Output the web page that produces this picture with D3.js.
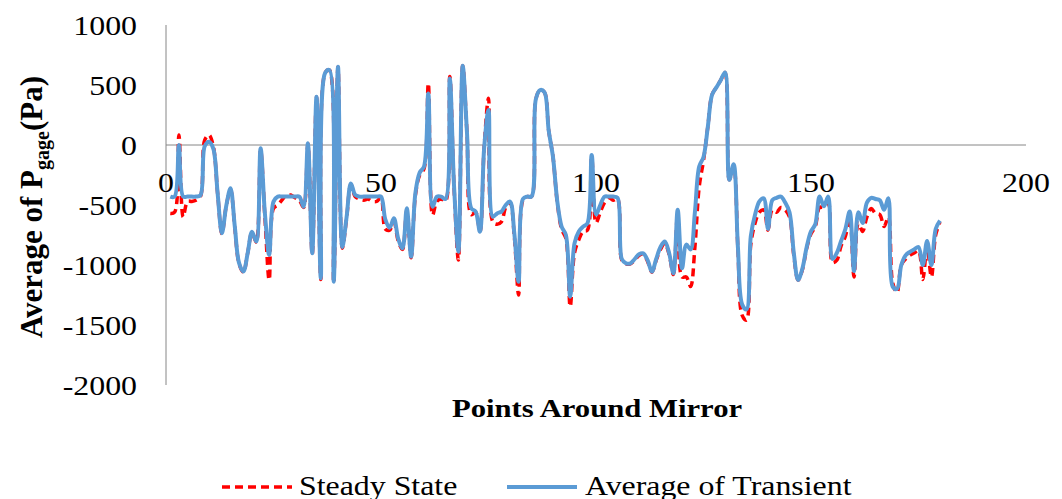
<!DOCTYPE html>
<html>
<head>
<meta charset="utf-8">
<script src="https://cdn.jsdelivr.net/npm/d3@7"></script>
<style>
body { margin: 0; background: #fff; }
</style>
</head>
<body>
<div class="viz"></div>
<script>
// point numbers around the mirror
const pointNo = d3.range(1, 181);

const steadyState = [
    -570, -560, 83, -600, -470, -470, -460, -430, 40, 83,
    -10, -400, -740, -510, -370, -690, -990, -1060, -900, -730,
    -810, -40, -600, -1125, -528, -500, -458, -416, -416, -440,
    -460, -520, 10, -910, 400, -1120, 600, 625, -1150, 650,
    -860, -610, -330, -430, -450, -460, -450, -470, -470, -440,
    -700, -710, -640, -800, -870, -540, -940, -420, -250, -200,
    514, -583, -470, -450, -470, 570, -360, -958, 660, 100,
    -580, -560, -720, -10, 389, -640, -660, -640, -520, -480,
    -760, -1250, -460, -430, -430, 380, 458, 440, 120, -100,
    -480, -700, -780, -1347, -900, -790, -720, -710, -100, -650,
    -560, -480, -440, -460, -450, -960, -990, -990, -960, -920,
    -910, -970, -1060, -960, -870, -820, -910, -1080, -560, -1100,
    -1100, -1180, -850, -350, -130, 150, 420, 480, 540, 605,
    -290, -170, -860, -1420, -1460, -830, -650, -560, -540, -710,
    -540, -560, -520, -540, -600, -920, -1125, -1040, -860, -740,
    -680, -520, -520, -480, -980, -960, -840, -760, -600, -1100,
    -650, -720, -600, -530, -570, -580, -680, -600, -1150, -1230,
    -1000, -950, -920, -900, -880, -1120, -850, -1100, -750, -640
];

const avgTransient = [
    -430, -430, 0, -430, -430, -430, -430, -420, -10, 28,
    -30, -400, -735, -510, -360, -680, -985, -1055, -900, -722,
    -805, -28, -570, -917, -472, -430, -430, -430, -430, -430,
    -430, -514, 14, -903, 403, -1110, 600, 625, -1139, 653,
    -850, -600, -320, -416, -430, -430, -430, -430, -430, -430,
    -620, -690, -610, -780, -861, -528, -930, -400, -230, -180,
    430, -514, -430, -430, -450, 555, -350, -889, 660, 100,
    -528, -555, -722, -20, 292, -597, -570, -555, -500, -472,
    -736, -1139, -450, -430, -430, 380, 458, 440, 120, -100,
    -470, -680, -750, -1264, -820, -720, -680, -653, -83, -580,
    -500, -430, -430, -430, -440, -950, -986, -986, -950, -910,
    -903, -960, -1055, -950, -850, -805, -900, -1069, -540, -1028,
    -830, -870, -560, -180, -100, 150, 420, 480, 540, 605,
    -290, -160, -850, -1330, -1370, -760, -580, -470, -444, -700,
    -460, -440, -430, -480, -560, -900, -1125, -1030, -850, -720,
    -660, -430, -510, -430, -950, -900, -800, -700, -555, -1050,
    -560, -650, -480, -440, -450, -460, -540, -444, -1180, -1200,
    -1000, -920, -890, -870, -850, -1000, -800, -1000, -700, -630
];

const xTicks = [0, 50, 100, 150, 200];
const yTicks = [1000, 500, 0, -500, -1000, -1500, -2000];

const W = 1062, H = 499;
const font = '"Liberation Serif", "Times New Roman", serif';
const sx = 1.18; // the source image is stretched sideways

const svg = d3.select('.viz').append('svg')
    .attr('width', W)
    .attr('height', H)
    .style('font-family', font);

const x = d3.scaleLinear().domain([0, 200]).range([166, 1026]);
const y = d3.scaleLinear().domain([-2000, 1000]).range([385, 25]);

// stretched text helper
function label(px, py, txt, size, anchor, weight) {
    return svg.append('text')
        .attr('transform', `translate(${px},${py}) scale(${sx},1)`)
        .attr('text-anchor', anchor)
        .style('font-size', size + 'px')
        .style('font-weight', weight || 'normal')
        .attr('fill', '#000')
        .text(txt);
}

// axes lines
svg.append('line')
    .attr('x1', x(0)).attr('x2', x(0))
    .attr('y1', y(1000)).attr('y2', y(-2000))
    .attr('stroke', '#868686').attr('stroke-width', 1);
svg.append('line')
    .attr('x1', x(0)).attr('x2', x(200))
    .attr('y1', y(0)).attr('y2', y(0))
    .attr('stroke', '#868686').attr('stroke-width', 1);

yTicks.forEach(t => label(137, y(t) + 9.5, t, 27, 'end'));
xTicks.forEach(t => label(x(t), y(0) + 47, t, 27, 'middle'));

label(597, 417, 'Points Around Mirror', 26, 'middle', 'bold');

const yt = svg.append('text')
    .attr('transform', 'translate(42,207) rotate(-90) scale(1,1.05)')
    .attr('text-anchor', 'middle')
    .style('font-size', '31px')
    .style('font-weight', 'bold')
    .text('Average of P');
yt.append('tspan')
    .attr('dy', 7)
    .style('font-size', '20px')
    .text('gage');
yt.append('tspan')
    .attr('dy', -7)
    .text('(Pa)');

const line = d3.line()
    .x((d, i) => x(pointNo[i]))
    .y(d => y(d))
    .curve(d3.curveCatmullRom.alpha(0.5));

svg.append('path')
    .datum(steadyState)
    .attr('d', line)
    .attr('fill', 'none')
    .attr('stroke', '#ff0000')
    .attr('stroke-width', 3.5)
    .attr('stroke-dasharray', '8,5');

svg.append('path')
    .datum(avgTransient)
    .attr('d', line)
    .attr('fill', 'none')
    .attr('stroke', '#5b9bd5')
    .attr('stroke-width', 4)
    .attr('stroke-linejoin', 'round');

// legend
svg.append('line')
    .attr('x1', 222).attr('x2', 292).attr('y1', 487).attr('y2', 487)
    .attr('stroke', '#ff0000').attr('stroke-width', 3.5)
    .attr('stroke-dasharray', '8,5');
label(299, 495, 'Steady State', 27, 'start');
svg.append('line')
    .attr('x1', 507).attr('x2', 577).attr('y1', 487).attr('y2', 487)
    .attr('stroke', '#5b9bd5').attr('stroke-width', 4);
label(585, 495, 'Average of Transient', 27, 'start');
</script>
</body>
</html>
